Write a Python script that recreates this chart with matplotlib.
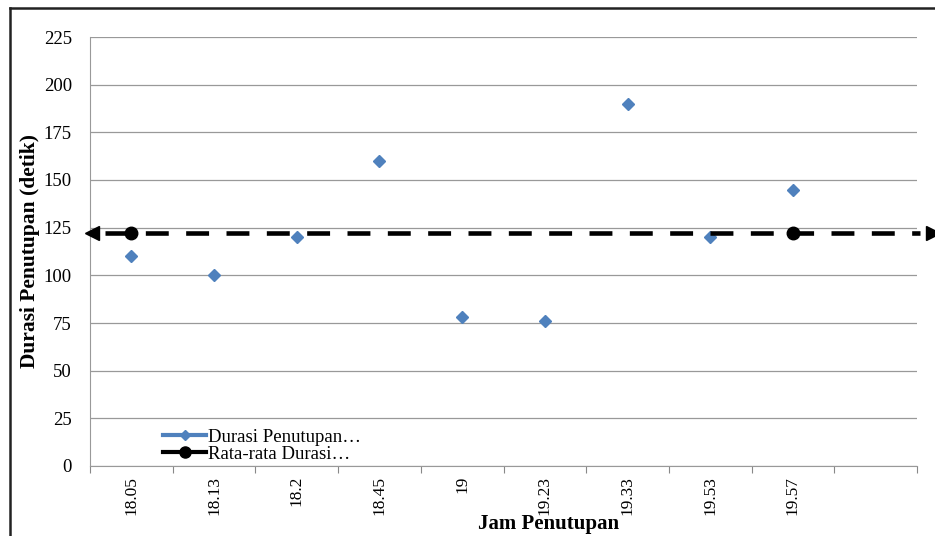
import matplotlib
matplotlib.use("Agg")
import matplotlib.pyplot as plt
from matplotlib.lines import Line2D

plt.rcParams['font.family'] = ['Liberation Serif', 'DejaVu Serif']

# data
jam = ["18.05", "18.13", "18.2", "18.45", "19", "19.23", "19.33", "19.53", "19.57"]
durasi = [110, 100, 120, 160, 78, 76, 190, 120, 145]
n_slot = 10  # Excel axis keeps one empty category at the right
y_ticks = [0, 25, 50, 75, 100, 125, 150, 175, 200, 225]

rata = sum(durasi) / len(durasi)
biru = '#4F81BD'

fig = plt.figure(figsize=(9.35, 5.36), dpi=100)
ax = fig.add_axes([90/935, 1 - 466/536, 827/935, 429/536])

x = list(range(len(jam)))
ax.plot(x, durasi, linestyle='none', marker='D', ms=6.5, color=biru, zorder=3)
# seri rata-rata: hanya titik di ujung, garisnya tertutup panah putus-putus
ax.plot([x[0], x[-1]], [rata, rata], linestyle='none', color='black',
        marker='o', ms=9, zorder=4)

# garis rata-rata putus-putus dengan panah di kedua ujung
x_kiri, x_kanan = -0.47, n_slot - 0.5 + 0.19
ax.plot([x_kiri + 0.15, x_kanan - 0.15], [rata, rata], color='black', lw=3.3,
        linestyle=(0, (5, 3.8)), clip_on=False, zorder=5)
ax.plot([x_kiri], [rata], marker='<', ms=10, color='black', clip_on=False, zorder=5)
ax.plot([x_kanan], [rata], marker='>', ms=10, color='black', clip_on=False, zorder=5)

ax.set_xlim(-0.5, n_slot - 0.5)
ax.set_ylim(0, 225)
ax.set_yticks(y_ticks)
ax.set_xticks(x)
ax.set_xticklabels(jam, rotation=90, fontsize=12.5)
ax.set_xticks([i - 0.5 for i in range(n_slot + 1)], minor=True)
ax.tick_params(axis='x', which='major', length=0, pad=7)
ax.tick_params(axis='x', which='minor', length=5, color='#888888', width=0.8)
ax.tick_params(axis='y', length=0, pad=13, labelsize=13.5)

ax.grid(axis='y', color='#999999', lw=0.9)
ax.set_axisbelow(True)
for s in ['top', 'right']:
    ax.spines[s].set_visible(False)
ax.spines['left'].set_color('#999999')
ax.spines['bottom'].set_color('#999999')

ax.set_ylabel("Durasi Penutupan (detik)", fontsize=15.5, fontweight='bold')
ax.yaxis.set_label_coords(-0.061, 0.5)
ax.set_xlabel("Jam Penutupan", fontsize=15, fontweight='bold', va='center')
ax.xaxis.set_label_coords(0.554, -0.135)

handles = [
    Line2D([], [], color=biru, lw=3, marker='D', ms=5.5),
    Line2D([], [], color='black', lw=3, marker='o', ms=8),
]
labels = ["Durasi Penutupan\u2026", "Rata-rata Durasi\u2026"]
ax.legend(handles, labels, loc='center left',
          bbox_to_anchor=((163 - 90) / 827, (466 - 445.5) / 429),
          frameon=False, fontsize=13.5, handlelength=2.3, handletextpad=0.1,
          labelspacing=0.0, borderpad=0, borderaxespad=0)

# bingkai kiri dan atas
fig.add_artist(Line2D([10/935, 10/935], [0, 1 - 8/536], color='#222222', lw=1.8))
fig.add_artist(Line2D([10/935, 1], [1 - 8/536, 1 - 8/536], color='#222222', lw=1.8))

fig.savefig("out.png", dpi=100)
